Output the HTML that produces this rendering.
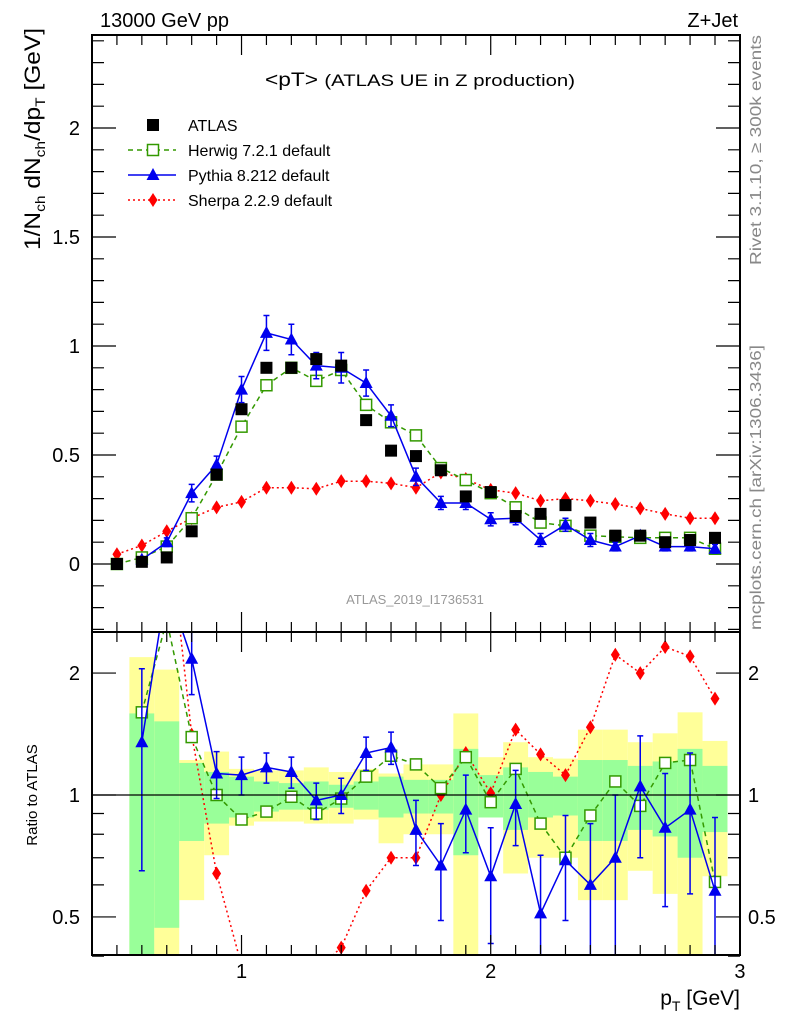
<!DOCTYPE html>
<html><head><meta charset="utf-8"><style>
html,body{margin:0;padding:0;background:#fff;}
svg{display:block;font-family:"Liberation Sans",sans-serif;}
</style></head><body>
<svg id="chart" width="786" height="1024" viewBox="0 0 786 1024" xmlns="http://www.w3.org/2000/svg">
<defs>
<clipPath id="clipMain"><rect x="92" y="35" width="648" height="597"/></clipPath>
<clipPath id="clipRatio"><rect x="92" y="632" width="648" height="323"/></clipPath>
</defs>
<g id="bands" clip-path="url(#clipRatio)"></g>
<g id="marks"></g>
<g id="axes"></g>
<text x="100" y="27" font-size="20">13000 GeV pp</text>
<text x="738" y="27" font-size="20" text-anchor="end">Z+Jet</text>
<text x="265" y="86" font-size="19" textLength="310" lengthAdjust="spacingAndGlyphs">&lt;pT&gt; <tspan font-size="17">(ATLAS UE in Z production)</tspan></text>
<text x="415" y="604" font-size="13" fill="#999" text-anchor="middle">ATLAS_2019_I1736531</text>
<text transform="translate(761,265) rotate(-90)" font-size="16" fill="#888" textLength="230" lengthAdjust="spacingAndGlyphs">Rivet 3.1.10, ≥ 300k events</text>
<text transform="translate(761,630) rotate(-90)" font-size="16" fill="#888" textLength="285" lengthAdjust="spacingAndGlyphs">mcplots.cern.ch [arXiv:1306.3436]</text>
<text transform="translate(40,250) rotate(-90)" font-size="22" textLength="222" lengthAdjust="spacingAndGlyphs">1/N<tspan font-size="14" dy="5">ch</tspan><tspan dy="-5"> dN</tspan><tspan font-size="14" dy="5">ch</tspan><tspan dy="-5">/dp</tspan><tspan font-size="14" dy="5">T</tspan><tspan dy="-5"> [GeV]</tspan></text>
<text transform="translate(37,795) rotate(-90)" font-size="15" text-anchor="middle">Ratio to ATLAS</text>
<text x="740" y="1005" font-size="21" text-anchor="end">p<tspan font-size="14" dy="6">T</tspan><tspan dy="-6"> [GeV]</tspan></text>
<g id="legend"></g>
</svg>
<script>
const xs=[0.5,0.6,0.7,0.8,0.9,1.0,1.1,1.2,1.3,1.4,1.5,1.6,1.7,1.8,1.9,2.0,2.1,2.2,2.3,2.4,2.5,2.6,2.7,2.8,2.9];
const atlas=[0,0.01,0.03,0.15,0.41,0.71,0.90,0.90,0.94,0.91,0.66,0.52,0.495,0.43,0.31,0.33,0.22,0.23,0.27,0.19,0.13,0.13,0.10,0.11,0.12];
const herwig=[0,0.03,0.08,0.21,0.41,0.63,0.82,0.90,0.84,0.89,0.73,0.65,0.59,0.44,0.385,0.325,0.26,0.19,0.175,0.13,0.125,0.12,0.12,0.12,0.07];
const pythia=[null,0.02,0.10,0.325,0.455,0.80,1.06,1.03,0.91,0.90,0.83,0.68,0.40,0.28,0.28,0.205,0.21,0.11,0.18,0.11,0.08,0.13,0.08,0.08,0.07];
const pythiaErr=[0,0.01,0.02,0.04,0.04,0.06,0.08,0.07,0.06,0.07,0.06,0.05,0.04,0.03,0.03,0.03,0.03,0.03,0.03,0.03,0.02,0.02,0.02,0.02,0.02];
const sherpa=[0.045,0.085,0.15,0.21,0.26,0.285,0.35,0.35,0.345,0.38,0.38,0.37,0.35,0.42,0.39,0.34,0.325,0.29,0.30,0.29,0.275,0.255,0.23,0.21,0.21];
const rx=[0.6,0.7,0.8,0.9,1.0,1.1,1.2,1.3,1.4,1.5,1.6,1.7,1.8,1.9,2.0,2.1,2.2,2.3,2.4,2.5,2.6,2.7,2.8,2.9];
const herwigR=[1.60,2.7,1.39,1.0,0.87,0.91,0.99,0.90,0.98,1.11,1.25,1.19,1.04,1.24,0.96,1.16,0.85,0.70,0.89,1.08,0.94,1.20,1.22,0.61];
const pythiaR=[1.35,3.3,2.17,1.13,1.12,1.17,1.14,0.97,1.0,1.27,1.31,0.82,0.67,0.92,0.63,0.95,0.51,0.69,0.60,0.70,1.05,0.83,0.92,0.58];
const pythiaRErr=[0.7,0.3,0.4,0.15,0.12,0.1,0.1,0.1,0.1,0.12,0.12,0.15,0.18,0.2,0.2,0.2,0.2,0.2,0.25,0.3,0.35,0.3,0.35,0.3];
const sherpaR=[8,5,1.41,0.64,0.38,0.39,0.39,0.37,0.42,0.58,0.70,0.70,1.0,1.27,1.01,1.45,1.26,1.12,1.47,2.22,2.0,2.32,2.2,1.73];
const yHi=[2.19,2.04,1.22,1.28,1.16,1.15,1.15,1.17,1.14,1.16,1.13,1.19,1.19,1.59,1.24,1.35,1.24,1.23,1.45,1.45,1.35,1.42,1.60,1.36];
const yLo=[0.3,0.3,0.55,0.71,0.84,0.86,0.86,0.85,0.85,0.87,0.76,0.80,0.80,0.40,0.88,0.64,0.70,0.70,0.55,0.55,0.65,0.57,0.3,0.63];
const gHi=[1.59,1.52,1.20,1.14,1.11,1.08,1.07,1.08,1.06,1.08,1.11,1.09,1.09,1.30,1.12,1.17,1.14,1.11,1.22,1.22,1.18,1.21,1.30,1.18];
const gLo=[0.3,0.47,0.77,0.85,0.88,0.91,0.92,0.92,0.93,0.92,0.88,0.90,0.90,0.71,0.88,0.82,0.88,0.89,0.77,0.77,0.82,0.79,0.70,0.81];
const mainTicks=["0","0.5","1","1.5","2"];
const ratioTicks=["0.5","1","2"];
const xTicks=["1","2","3"];

const NS="http://www.w3.org/2000/svg";
const X=v=>92+(v-0.4)*249.2;
const Y=v=>564-v*218;
const R=v=>795-405*Math.log10(v);
function mk(tag,attrs,parent){const e=document.createElementNS(NS,tag);for(const k in attrs)e.setAttribute(k,attrs[k]);parent.appendChild(e);return e;}
const marks=document.getElementById('marks');
const axes=document.getElementById('axes');
const bands=document.getElementById('bands');

rx.forEach((x,i)=>{
  const y1=mk('rect',{x:X(x-0.05),width:249.2*0.1,y:R(yHi[i]),height:R(yLo[i])-R(yHi[i]),fill:'#ffff99'},bands);
  
  
  const g1=mk('rect',{x:X(x-0.05),width:249.2*0.1,y:R(gHi[i]),height:R(gLo[i])-R(gHi[i]),fill:'#99ff99'},bands);
  
  
});
const one=mk('line',{x1:92,x2:740,y1:R(1),y2:R(1),stroke:'#000','stroke-width':1.2},axes);



function series(xarr,yarr,fy,clip,color,dash,marker,name,err){
  const g=mk('g',{'clip-path':'url(#'+clip+')'},marks);
  
  
  let pts=[];
  xarr.forEach((x,i)=>{if(yarr[i]!==null)pts.push(X(x).toFixed(1)+','+fy(yarr[i]).toFixed(1));});
  if(color){const pl=mk('polyline',{points:pts.join(' '),fill:'none',stroke:color,'stroke-width':1.5,'stroke-dasharray':dash},g);
    
    }
  xarr.forEach((x,i)=>{
    const v=yarr[i]; if(v===null)return;
    const cx=X(x),cy=fy(v);
    if(err){const lo=Math.max(v-err[i],0.01);const hi=v+err[i];
      const e=mk('path',{d:`M${cx},${fy(hi)}V${fy(lo)}M${cx-3},${fy(hi)}h6M${cx-3},${fy(lo)}h6`,stroke:color,'stroke-width':1.5,fill:'none'},g);
      
      }
    let m;
    if(marker==='sq') m=mk('rect',{x:cx-6,y:cy-6,width:12,height:12,fill:'#000'},g);
    else if(marker==='osq') m=mk('rect',{x:cx-5.5,y:cy-5.5,width:11,height:11,fill:'#fff',stroke:'#339900','stroke-width':1.5},g);
    else if(marker==='tri') m=mk('path',{d:`M${cx},${cy-7}L${cx+6.5},${cy+5}L${cx-6.5},${cy+5}Z`,fill:'#0000ee'},g);
    else m=mk('path',{d:`M${cx},${cy-7}L${cx+4.5},${cy}L${cx},${cy+7}L${cx-4.5},${cy}Z`,fill:'#ff0000'},g);
    
    
  });
}
series(xs,sherpa,Y,'clipMain','#ff0000','2,3','dia','sherpa-series');
series(xs,herwig,Y,'clipMain','#339900','5,4','osq','herwig-series');
series(xs,pythia,Y,'clipMain','#0000ee','','tri','pythia-series',pythiaErr);
series(xs,atlas,Y,'clipMain',null,'','sq','atlas-data');
series(rx,sherpaR,R,'clipRatio','#ff0000','2,3','dia','sherpa-ratio');
series(rx,herwigR,R,'clipRatio','#339900','5,4','osq','herwig-ratio');
series(rx,pythiaR,R,'clipRatio','#0000ee','','tri','pythia-ratio',pythiaRErr);

[[35,632],[632,955]].forEach(([t,b],k)=>{
  const f=mk('rect',{x:92,y:t,width:648,height:b-t,fill:'none',stroke:'#000','stroke-width':2},axes);
  
  
  let d='';
  for(let i=5;i<=29;i++){const x=X(i/10);const L=(i%10===0)?20:10;d+=`M${x},${t}v${L}M${x},${b}v${-L}`;}
  mk('path',{d:d,stroke:'#000','stroke-width':1.2},axes);
});
let d='';
for(let i=-3;i<=24;i++){const y=Y(i/10);const L=(i%5===0)?24:12;d+=`M92,${y}h${L}M740,${y}h${-L}`;}
mk('path',{d:d,stroke:'#000','stroke-width':1.2},axes);
mainTicks.forEach(t=>{const e=mk('text',{x:80,y:Y(parseFloat(t))+7,'font-size':20,'text-anchor':'end'},axes);e.textContent=t;
  
  });
d='';
[0.4,0.5,0.6,0.7,0.8,0.9,1,2].forEach(v=>{const y=R(v);const L=(v===0.5||v===1||v===2)?24:12;d+=`M92,${y}h${L}M740,${y}h${-L}`;});
mk('path',{d:d,stroke:'#000','stroke-width':1.2},axes);
ratioTicks.forEach(t=>{const v=parseFloat(t);
  const e=mk('text',{x:80,y:R(v)+7,'font-size':20,'text-anchor':'end'},axes);e.textContent=t;
  
  
  const e2=mk('text',{x:748,y:R(v)+7,'font-size':20},axes);e2.textContent=t;
  
  });
xTicks.forEach(t=>{const e=mk('text',{x:X(parseFloat(t)),y:978,'font-size':20,'text-anchor':'middle'},axes);e.textContent=t;
  
  });

const lg=document.getElementById('legend');
const items=[["ATLAS",null,'',"sq"],["Herwig 7.2.1 default","#339900","5,4","osq"],["Pythia 8.212 default","#0000ee","","tri"],["Sherpa 2.2.9 default","#ff0000","2,3","dia"]];
items.forEach((it,i)=>{
  const y=125+i*25;const cx=153;
  const g=mk('g',{},lg);
  
  
  if(it[1])mk('line',{x1:128,x2:176,y1:y,y2:y,stroke:it[1],'stroke-width':1.5,'stroke-dasharray':it[2]},g);
  if(it[3]==='sq')mk('rect',{x:cx-6,y:y-6,width:12,height:12,fill:'#000'},g);
  else if(it[3]==='osq')mk('rect',{x:cx-5.5,y:y-5.5,width:11,height:11,fill:'#fff',stroke:'#339900','stroke-width':1.5},g);
  else if(it[3]==='tri')mk('path',{d:`M${cx},${y-7}L${cx+6.5},${y+5}L${cx-6.5},${y+5}Z`,fill:'#0000ee'},g);
  else mk('path',{d:`M${cx},${y-7}L${cx+4.5},${y}L${cx},${y+7}L${cx-4.5},${y}Z`,fill:'#ff0000'},g);
  const t=mk('text',{x:188,y:y+6,'font-size':16},g);t.textContent=it[0];
});
</script>
</body></html>
